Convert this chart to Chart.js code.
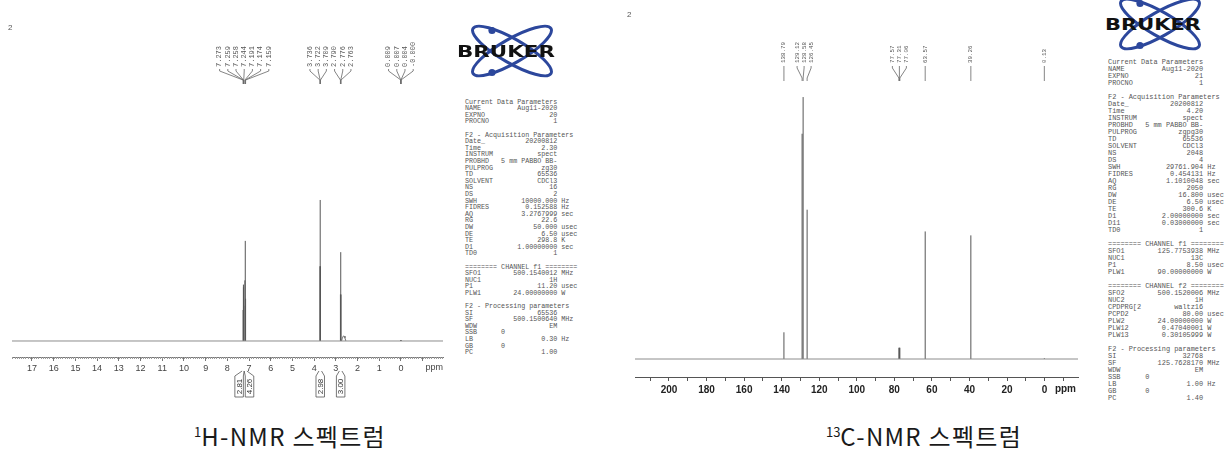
<!DOCTYPE html>
<html><head><meta charset="utf-8">
<script src="https://cdn.jsdelivr.net/npm/chart.js@4.4.1/dist/chart.umd.min.js"></script>
<style>
html,body{margin:0;padding:0;background:#fff;width:1225px;height:454px;overflow:hidden;position:relative;font-family:"Liberation Sans",Arial,sans-serif}
canvas{position:absolute;top:0}
.params{position:absolute;margin:0;font-family:"Liberation Mono","DejaVu Sans Mono",monospace;color:#555;white-space:pre}
#p1{font-size:6.7px;line-height:6.6px}
#p2{font-size:6.9px;line-height:7px}
.caption{position:absolute;font-family:"Noto Sans CJK KR","Noto Sans",sans-serif;font-size:24px;line-height:24px;letter-spacing:1.3px;color:#1a1a1a;white-space:nowrap;transform:translateX(-50%)}
.caption sup{font-size:13px;vertical-align:baseline;position:relative;top:-9px;margin-right:0;letter-spacing:0}
.num{position:absolute;font-size:8px;color:#555}
.logo{position:absolute}
</style></head><body>
<canvas id="c1" width="455" height="400" style="left:0"></canvas>
<canvas id="c2" width="470" height="407" style="left:620px"></canvas>
<div class="num" style="left:8px;top:23px">2</div>
<div class="num" style="left:627px;top:10px">2</div>
<svg class="logo" style="left:450px;top:24px" width="110" height="56" viewBox="0 0 110 56">
  <ellipse cx="62" cy="27" rx="45" ry="12" transform="rotate(30 62 27)" fill="none" stroke="#2c479c" stroke-width="3"/>
  <ellipse cx="62" cy="27" rx="45" ry="12" transform="rotate(-30 62 27)" fill="none" stroke="#2c479c" stroke-width="3"/>
  <circle cx="42" cy="6.5" r="3.6" fill="#2c479c"/><circle cx="42" cy="48.5" r="3.6" fill="#2c479c"/>
  <text x="7" y="33" font-family="DejaVu Sans" font-weight="bold" font-size="15" textLength="98" lengthAdjust="spacingAndGlyphs" fill="#111">BRUKER</text>
</svg>
<svg class="logo" style="left:1098px;top:-3px" width="110" height="56" viewBox="0 0 110 56">
  <ellipse cx="62" cy="27" rx="45" ry="12" transform="rotate(30 62 27)" fill="none" stroke="#2c479c" stroke-width="3"/>
  <ellipse cx="62" cy="27" rx="45" ry="12" transform="rotate(-30 62 27)" fill="none" stroke="#2c479c" stroke-width="3"/>
  <circle cx="42" cy="6.5" r="3.6" fill="#2c479c"/><circle cx="42" cy="48.5" r="3.6" fill="#2c479c"/>
  <text x="7" y="33" font-family="DejaVu Sans" font-weight="bold" font-size="15" textLength="96" lengthAdjust="spacingAndGlyphs" fill="#111">BRUKER</text>
</svg>
<pre class="params" id="p1" style="left:465px;top:98.7px"></pre>
<pre class="params" id="p2" style="left:1108px;top:58.5px"></pre>
<div class="caption" style="left:290px;top:424px"><sup>1</sup>H-NMR 스펙트럼</div>
<div class="caption" style="left:924px;top:424px"><sup>13</sup>C-NMR 스펙트럼</div>
<script>
// ---------------- 1H spectrum data ----------------
const h1Range = [-1.935, 17.92];
const h1Shift = [7.273, 7.259, 7.258, 7.244, 7.191, 7.174, 7.159, 3.736, 3.722, 3.709, 2.790, 2.776, 2.763, 0.009, 0.007, 0.004, -0.000];
const h1Height = [22, 40, 38, 25, 43, 71, 30, 53, 100, 53, 33, 63, 33, 0.6, 0.6, 0.6, 0.6];
const h1PeakLabels = ['7.273','7.259','7.258','7.244','7.191','7.174','7.159','3.736','3.722','3.709','2.790','2.776','2.763','0.009','0.007','0.004','-0.000'];
const h1BroadShift = [2.74, 2.70, 2.66, 2.62, 2.58, 2.54];
const h1BroadHeight = [0, 2, 3.5, 3.5, 2, 0];
const h1IntFrom = [7.32, 7.225, 3.78, 2.84];
const h1IntTo = [7.225, 7.10, 3.66, 2.72];
const h1IntValue = ['2.81', '4.26', '2.98', '3.00'];
const h1TickLabels = [17, 16, 15, 14, 13, 12, 11, 10, 9, 8, 7, 6, 5, 4, 3, 2, 1, 0];
// ---------------- 13C spectrum data ----------------
const c13Range = [-17.8, 218.1];
const c13Shift = [138.79, 129.12, 128.58, 126.45, 77.57, 77.31, 77.06, 63.57, 39.26, 0.13];
const c13Height = [10.2, 86, 100, 57, 4.3, 4.3, 4.3, 48.7, 47.2, 0.3];
const c13PeakLabels = ['138.79','129.12','128.58','126.45','77.57','77.31','77.06','63.57','39.26','0.13'];
const c13TickLabels = [200, 180, 160, 140, 120, 100, 80, 60, 40, 20, 0];

// ---------------- acquisition parameter texts ----------------
const h1ParamRows = [
 ['#Current Data Parameters'],['NAME','Aug11-2020'],['EXPNO','20'],['PROCNO','1'],[''],
 ['#F2 - Acquisition Parameters'],['Date_','20200812'],['Time','2.30'],['INSTRUM','spect'],['PROBHD','5 mm PABBO BB-'],
 ['PULPROG','zg30'],['TD','65536'],['SOLVENT','CDCl3'],['NS','16'],['DS','2'],['SWH','10000.000','Hz'],
 ['FIDRES','0.152588','Hz'],['AQ','3.2767999','sec'],['RG','22.6'],['DW','50.000','usec'],['DE','6.50','usec'],
 ['TE','298.8','K'],['D1','1.00000000','sec'],['TD0','1'],[''],
 ['#======== CHANNEL f1 ========'],['SFO1','500.1540012','MHz'],['NUC1','1H'],['P1','11.20','usec'],['PLW1','24.00000000','W'],[''],
 ['#F2 - Processing parameters'],['SI','65536'],['SF','500.1500640','MHz'],['WDW','EM'],['SSB','!0'],['LB','0.30','Hz'],['GB','!0'],['PC','1.00']
];
const c13ParamRows = [
 ['#Current Data Parameters'],['NAME','Aug11-2020'],['EXPNO','21'],['PROCNO','1'],[''],
 ['#F2 - Acquisition Parameters'],['Date_','20200812'],['Time','4.20'],['INSTRUM','spect'],['PROBHD','5 mm PABBO BB-'],
 ['PULPROG','zgpg30'],['TD','65536'],['SOLVENT','CDCl3'],['NS','2048'],['DS','4'],['SWH','29761.904','Hz'],
 ['FIDRES','0.454131','Hz'],['AQ','1.1010048','sec'],['RG','2050'],['DW','16.800','usec'],['DE','6.50','usec'],
 ['TE','300.6','K'],['D1','2.00000000','sec'],['D11','0.03000000','sec'],['TD0','1'],[''],
 ['#======== CHANNEL f1 ========'],['SFO1','125.7753938','MHz'],['NUC1','13C'],['P1','8.50','usec'],['PLW1','90.00000000','W'],[''],
 ['#======== CHANNEL f2 ========'],['SFO2','500.1520006','MHz'],['NUC2','1H'],['CPDPRG[2','waltz16'],['PCPD2','80.00','usec'],
 ['PLW2','24.00000000','W'],['PLW12','0.47040001','W'],['PLW13','0.30105999','W'],[''],
 ['#F2 - Processing parameters'],['SI','32768'],['SF','125.7628170','MHz'],['WDW','EM'],['SSB','!0'],['LB','1.00','Hz'],['GB','!0'],['PC','1.40']
];
function fmtRows(rows){
  return rows.map(r=>{
    if(r[0].startsWith('#')) return r[0].slice(1);
    if(r[0]==='') return '';
    if(r[1].startsWith('!')) return r[0].padEnd(9)+r[1].slice(1);
    return r[0].padEnd(8)+r[1].padStart(15)+(r[2]?' '+r[2]:'');
  }).join('\n');
}
document.getElementById('p1').textContent = fmtRows(h1ParamRows);
document.getElementById('p2').textContent = fmtRows(c13ParamRows);

// ---------------- helpers ----------------
function sticks(shifts, heights){
  const d=[];
  shifts.forEach((s,i)=>{ d.push({x:s,y:0},{x:s,y:heights[i]},{x:s,y:null}); });
  return d;
}
function spreadPositions(ideal, sp){
  const order = ideal.map((v,i)=>i).sort((a,b)=>ideal[a]-ideal[b]);
  const cl=[];
  order.forEach(i=>{
    cl.push({items:[i],sum:ideal[i]});
    while(cl.length>1){
      const a=cl[cl.length-2], b=cl[cl.length-1];
      const aS=a.sum/a.items.length-(a.items.length-1)*sp/2, aE=aS+(a.items.length-1)*sp;
      const bS=b.sum/b.items.length-(b.items.length-1)*sp/2;
      if(bS<aE+sp){ a.items=a.items.concat(b.items); a.sum+=b.sum; cl.pop(); } else break;
    }
  });
  const out=new Array(ideal.length);
  cl.forEach(c=>{ const s=c.sum/c.items.length-(c.items.length-1)*sp/2; c.items.forEach((i,k)=>out[i]=s+k*sp); });
  return out;
}
const nmrDecor = {
  id:'nmrDecor',
  afterDraw(chart, args, o){
    const ctx=chart.ctx, xs=chart.scales.x, area=chart.chartArea;
    ctx.save();
    if(o.minorStep){
      ctx.strokeStyle=o.minorColor; ctx.lineWidth=1; ctx.beginPath();
      const n0=Math.ceil(xs.min/o.minorStep), n1=Math.floor(xs.max/o.minorStep);
      for(let n=n0;n<=n1;n++){
        const px=Math.round(xs.getPixelForValue(n*o.minorStep))+0.5;
        ctx.moveTo(px,area.bottom); ctx.lineTo(px,area.bottom+o.minorLen);
      }
      ctx.stroke();
    }
    ctx.fillStyle=o.unitColor; ctx.font=o.unitFont; ctx.textAlign='right'; ctx.textBaseline='top';
    ctx.fillText('ppm', area.right+o.unitDx, area.bottom+o.unitDy);
    const L=o.labels;
    if(L){
      const pk=L.shifts.map(s=>xs.getPixelForValue(s));
      const lx=spreadPositions(pk,L.spacing);
      ctx.strokeStyle=L.lineColor; ctx.lineWidth=0.8; ctx.beginPath();
      pk.forEach((p,i)=>{ ctx.moveTo(lx[i],L.y0); ctx.lineTo(lx[i],L.y1); ctx.lineTo(p,L.y2); ctx.lineTo(p,L.y3); });
      ctx.stroke();
      ctx.fillStyle=L.color; ctx.font=L.font; ctx.textAlign='left'; ctx.textBaseline='middle';
      L.texts.forEach((t,i)=>{ ctx.save(); ctx.translate(lx[i],L.textBottom); ctx.rotate(-Math.PI/2); ctx.fillText(t,0,0); ctx.restore(); });
    }
    const I=o.integrals;
    if(I){
      const c=I.from.map((f,i)=>(xs.getPixelForValue(f)+xs.getPixelForValue(I.to[i]))/2);
      const bx=spreadPositions(c,I.spacing);
      ctx.strokeStyle=I.color; ctx.lineWidth=0.8; ctx.beginPath();
      bx.forEach((x,i)=>{
        const l=x-I.w/2, r=x+I.w/2, pf=xs.getPixelForValue(I.from[i]), pt=xs.getPixelForValue(I.to[i]);
        ctx.moveTo(pf,I.roofY); ctx.lineTo(l,I.boxTop); ctx.lineTo(l,I.boxBottom); ctx.lineTo(r,I.boxBottom); ctx.lineTo(r,I.boxTop); ctx.lineTo(pt,I.roofY);
      });
      ctx.stroke();
      ctx.fillStyle=I.textColor; ctx.font=I.font; ctx.textAlign='center'; ctx.textBaseline='middle';
      I.values.forEach((t,i)=>{ ctx.save(); ctx.translate(bx[i]+0.5,(I.boxTop+I.boxBottom)/2); ctx.rotate(-Math.PI/2); ctx.fillText(t,0,0); ctx.restore(); });
    }
    ctx.restore();
  }
};

// ---------------- 1H chart ----------------
new Chart(document.getElementById('c1'), {
  type:'line',
  data:{datasets:[
    {data:[{x:h1Range[1],y:0},{x:h1Range[0],y:0}], borderColor:'#8c8c8c', borderWidth:1, pointRadius:0},
    {data:sticks(h1Shift,h1Height), borderColor:'#555', borderWidth:1, pointRadius:0, spanGaps:false},
    {data:h1BroadShift.map((s,i)=>({x:s,y:h1BroadHeight[i]})), borderColor:'#777', borderWidth:1, pointRadius:0}
  ]},
  options:{
    responsive:false, animation:false, events:[],
    layout:{padding:{top:90,left:12,right:12,bottom:13}},
    plugins:{legend:{display:false}, tooltip:{enabled:false},
      nmrDecor:{minorStep:0.1, minorLen:2, minorColor:'#9a9a9a', unitFont:'9px "Liberation Sans"', unitColor:'#444', unitDx:0, unitDy:6,
        labels:{shifts:h1Shift, texts:h1PeakLabels, spacing:8.2, font:'7px "Liberation Mono"', color:'#555', lineColor:'#666', textBottom:67, y0:69, y1:71, y2:80, y3:84},
        integrals:{from:h1IntFrom, to:h1IntTo, values:h1IntValue, spacing:10.4, w:8.5, roofY:371, boxTop:376, boxBottom:397, color:'#555', textColor:'#333', font:'8px "Liberation Sans"'}
      }},
    scales:{
      x:{type:'linear', reverse:true, min:h1Range[0], max:h1Range[1],
        afterFit(s){ s.height=30; },
        border:{display:true, color:'#777', width:1},
        grid:{display:true, drawOnChartArea:false, drawTicks:true, tickLength:4, color:'#777'},
        ticks:{stepSize:1, includeBounds:false, autoSkip:false, maxRotation:0, padding:2, color:'#444',
          font:{family:'Liberation Sans', size:9},
          callback:v=>h1TickLabels.includes(v)?String(v):''}
      },
      y:{display:false, min:-11.35, max:178}
    }
  },
  plugins:[nmrDecor]
});

// ---------------- 13C chart ----------------
new Chart(document.getElementById('c2'), {
  type:'line',
  data:{datasets:[
    {data:[{x:c13Range[1],y:0},{x:c13Range[0],y:0}], borderColor:'#8c8c8c', borderWidth:1, pointRadius:0},
    {data:sticks(c13Shift,c13Height), borderColor:'#555', borderWidth:1, pointRadius:0, spanGaps:false}
  ]},
  options:{
    responsive:false, animation:false, events:[],
    layout:{padding:{top:90,left:15,right:12,bottom:0}},
    plugins:{legend:{display:false}, tooltip:{enabled:false},
      nmrDecor:{minorStep:0, unitFont:'bold 10px "Liberation Sans"', unitColor:'#222', unitDx:-2, unitDy:7,
        labels:{shifts:c13Shift, texts:c13PeakLabels, spacing:7, font:'5.8px "Liberation Mono"', color:'#555', lineColor:'#666', textBottom:63, y0:66, y1:68, y2:78, y3:81}
      }},
    scales:{
      x:{type:'linear', reverse:true, min:c13Range[0], max:c13Range[1],
        afterFit(s){ s.height=30; },
        border:{display:true, color:'#555', width:1},
        grid:{display:true, drawOnChartArea:false, drawTicks:true, tickLength:4, color:'#555'},
        ticks:{stepSize:10, includeBounds:false, autoSkip:false, maxRotation:0, padding:3, color:'#222',
          font:{family:'Liberation Sans', size:10, weight:'bold'},
          callback:v=>c13TickLabels.includes(v)?String(v):''}
      },
      y:{display:false, min:-6.87, max:102.7}
    }
  },
  plugins:[nmrDecor]
});
</script>
</body></html>
